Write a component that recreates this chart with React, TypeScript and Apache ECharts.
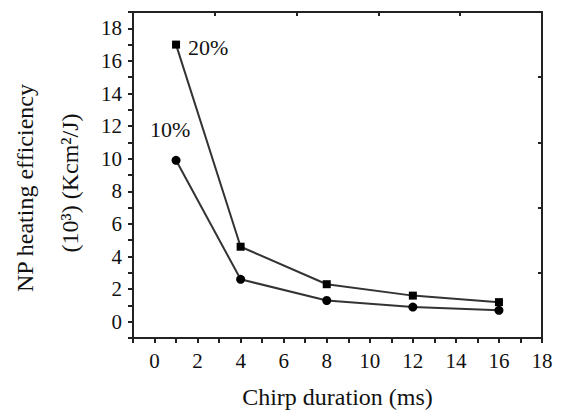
import React, { useEffect, useRef } from "react";
import * as echarts from "echarts";

const chirpDurations = [1, 4, 8, 12, 16];
const efficiency20 = [17.0, 4.6, 2.3, 1.6, 1.2];
const efficiency10 = [9.9, 2.6, 1.3, 0.9, 0.7];
const seriesNames = ["20%", "10%"];
const xTitle = "Chirp duration (ms)";
const yTitleLine1 = "NP heating efficiency";
const yTitleLine2 = "(10³) (Kcm²/J)";

const FONT = "'Liberation Serif', 'Times New Roman', serif";
const INK = "#222";

export default function App() {
  const ref = useRef<HTMLDivElement>(null);
  useEffect(() => {
    if (!ref.current) return;
    const chart = echarts.init(ref.current, null, { renderer: "svg" });
    const mk = (vals: number[], labelText: string, pos: any, offset: number[]) =>
      vals.map((v, i) => {
        const item: any = { value: [chirpDurations[i], v] };
        if (i === 0) {
          item.label = {
            show: true,
            formatter: labelText,
            position: pos,
            offset,
            fontFamily: FONT,
            fontSize: 22,
            color: "#111",
          };
        }
        return item;
      });
    chart.setOption({
      animation: false,
      backgroundColor: "#fff",
      grid: { left: 133, right: 19, top: 12, bottom: 72 },
      xAxis: [
        {
          type: "value",
          min: -1,
          max: 18,
          interval: 1,
          name: xTitle,
          nameLocation: "middle",
          nameGap: 47,
          nameTextStyle: { fontFamily: FONT, fontSize: 24, color: "#111" },
          axisLine: { onZero: false, lineStyle: { color: INK, width: 2 } },
          axisTick: { length: 5, lineStyle: { color: INK, width: 2 } },
          splitLine: { show: false },
          axisLabel: {
            fontFamily: FONT,
            fontSize: 21,
            color: "#111",
            margin: 12,
            formatter: (v: number) => (v >= 0 && v % 2 === 0 ? String(v) : ""),
          },
        },
        {
          type: "value",
          position: "top",
          min: 0,
          max: 5,
          interval: 1,
          axisLine: { show: true, onZero: false, lineStyle: { color: INK, width: 2 } },
          axisTick: { inside: true, length: 4, lineStyle: { color: INK, width: 2 } },
          axisLabel: { show: false },
          splitLine: { show: false },
        },
      ],
      yAxis: [
        {
          type: "value",
          min: -1,
          max: 19,
          interval: 1,
          axisLine: { show: true, onZero: false, lineStyle: { color: INK, width: 2 } },
          axisTick: { show: true, length: 5, lineStyle: { color: INK, width: 2 } },
          splitLine: { show: false },
          axisLabel: {
            fontFamily: FONT,
            fontSize: 21,
            color: "#111",
            margin: 11,
            formatter: (v: number) => (v >= 0 && v <= 18 && v % 2 === 0 ? String(v) : ""),
          },
        },
        {
          type: "value",
          position: "right",
          min: 0,
          max: 5,
          interval: 1,
          axisLine: { show: true, onZero: false, lineStyle: { color: INK, width: 2 } },
          axisTick: { show: true, inside: true, length: 4, lineStyle: { color: INK, width: 2 } },
          axisLabel: { show: false },
          splitLine: { show: false },
        },
      ],
      series: [
        {
          name: seriesNames[0],
          type: "line",
          xAxisIndex: 0,
          yAxisIndex: 0,
          symbol: "rect",
          symbolSize: 8,
          itemStyle: { color: "#000" },
          lineStyle: { color: "#333", width: 2 },
          data: mk(efficiency20, seriesNames[0], "right", [3, 3]),
        },
        {
          name: seriesNames[1],
          type: "line",
          xAxisIndex: 0,
          yAxisIndex: 0,
          symbol: "circle",
          symbolSize: 9,
          itemStyle: { color: "#000" },
          lineStyle: { color: "#333", width: 2 },
          data: mk(efficiency10, seriesNames[1], "top", [-6, -10]),
        },
      ],
      graphic: [
        {
          type: "text",
          x: 25,
          y: 188,
          rotation: Math.PI / 2,
          style: {
            text: yTitleLine1,
            fontFamily: FONT,
            fontSize: 24,
            fill: "#111",
            align: "center",
            verticalAlign: "middle",
          },
        },
        {
          type: "text",
          x: 70,
          y: 183,
          rotation: Math.PI / 2,
          style: {
            text: yTitleLine2,
            fontFamily: FONT,
            fontSize: 24,
            fill: "#111",
            align: "center",
            verticalAlign: "middle",
          },
        },
      ],
    });
    return () => chart.dispose();
  }, []);
  return (
    <div
      ref={ref}
      style={{ position: "fixed", left: 0, top: 0, width: 561, height: 414, background: "#fff" }}
    />
  );
}
